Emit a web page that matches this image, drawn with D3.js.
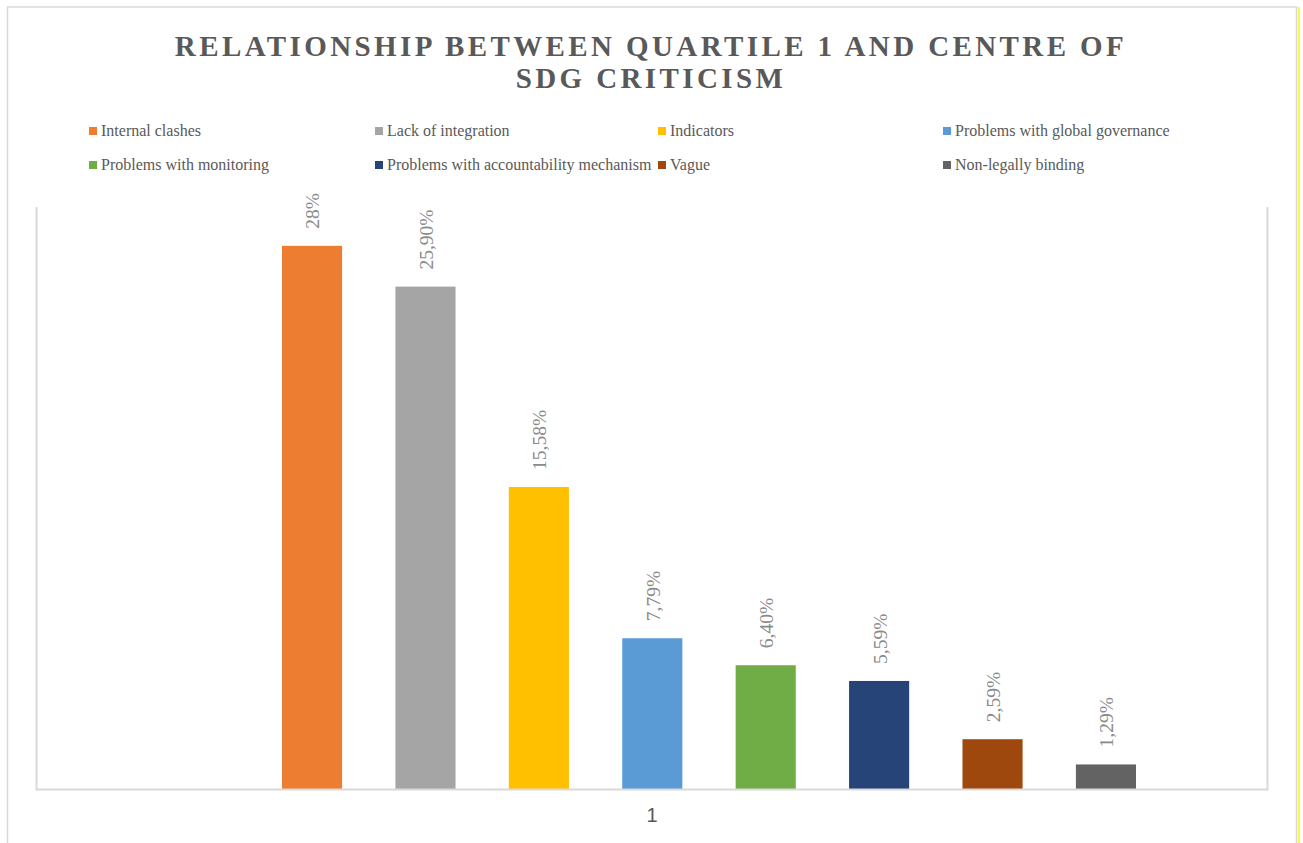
<!DOCTYPE html>
<html>
<head>
<meta charset="utf-8">
<script src="https://cdn.jsdelivr.net/npm/d3@7/dist/d3.min.js"></script>
<style>
  html, body { margin: 0; padding: 0; background: #fff; }
  svg { display: block; }
</style>
</head>
<body>
<script>
// Share of SDG criticism by centre, quartile 1
const categories = ["1"];
const seriesNames = [
  "Internal clashes",
  "Lack of integration",
  "Indicators",
  "Problems with global governance",
  "Problems with monitoring",
  "Problems with accountability mechanism",
  "Vague",
  "Non-legally binding"
];
const seriesValues = [28, 25.90, 15.58, 7.79, 6.40, 5.59, 2.59, 1.29];
const valueLabels = ["28%", "25,90%", "15,58%", "7,79%", "6,40%", "5,59%", "2,59%", "1,29%"];
const seriesColors = ["#ED7D31", "#A5A5A5", "#FFC000", "#5B9BD5", "#70AD47", "#264478", "#9E480E", "#636363"];
const titleLines = ["RELATIONSHIP BETWEEN QUARTILE 1 AND CENTRE OF", "SDG CRITICISM"];

const W = 1303, H = 843;
const plot = { left: 36.5, right: 1267.5, top: 207, bottom: 789.5 };

const svg = d3.select("body").append("svg")
  .attr("width", W).attr("height", H);

svg.append("rect").attr("width", W).attr("height", H).attr("fill", "#fff");

// Chart area frame
svg.append("rect")
  .attr("x", 7.5).attr("y", 7).attr("width", 1289).attr("height", 860)
  .attr("fill", "none").attr("stroke", "#d9d9d9").attr("stroke-width", 1.5);
svg.append("line")
  .attr("x1", 1298.8).attr("x2", 1298.8).attr("y1", 7).attr("y2", H)
  .attr("stroke", "#f7f54a").attr("stroke-width", 2);

// Title
svg.append("g").selectAll("text").data(titleLines).join("text")
  .attr("x", 651).attr("y", (d, i) => 56 + i * 32)
  .attr("text-anchor", "middle")
  .attr("font-family", "'Liberation Serif', 'Times New Roman', serif")
  .attr("font-weight", "bold")
  .attr("font-size", 29)
  .attr("letter-spacing", 3.4)
  .attr("fill", "#595959")
  .text(d => d);

// Legend: 4 columns, 2 rows
const legendCols = [89, 375, 658, 943];
const legend = svg.append("g").selectAll("g").data(seriesNames).join("g")
  .attr("transform", (d, i) => `translate(${legendCols[i % 4]},${131 + Math.floor(i / 4) * 34})`);
legend.append("rect")
  .attr("x", 0).attr("y", -4).attr("width", 8).attr("height", 8)
  .attr("fill", (d, i) => seriesColors[i]);
legend.append("text")
  .attr("x", 12).attr("y", 5)
  .attr("font-family", "'Liberation Serif', 'Times New Roman', serif")
  .attr("font-size", 16)
  .attr("fill", "#595959")
  .text(d => d);

// Scales
const y = d3.scaleLinear().domain([0, 30]).range([plot.bottom, plot.top]);
const x0 = d3.scaleBand().domain(categories).range([plot.left, plot.right]).padding(0);
const x1 = d3.scaleBand().domain(seriesNames)
  .range([245.5, x0.bandwidth() - 131.5])
  .paddingInner(0.47).paddingOuter(0);

// Plot area side borders
svg.append("line")
  .attr("x1", plot.left).attr("x2", plot.left).attr("y1", plot.top).attr("y2", plot.bottom)
  .attr("stroke", "#d9d9d9").attr("stroke-width", 2);
svg.append("line")
  .attr("x1", plot.right).attr("x2", plot.right).attr("y1", plot.top).attr("y2", plot.bottom)
  .attr("stroke", "#d9d9d9").attr("stroke-width", 2);

// Bars
const group = svg.append("g").selectAll("g").data(categories).join("g")
  .attr("transform", d => `translate(${x0(d)},0)`);

group.selectAll("rect").data(seriesNames.map((s, i) => ({ s, v: seriesValues[i], i })))
  .join("rect")
  .attr("x", d => x1(d.s))
  .attr("y", d => y(d.v))
  .attr("width", x1.bandwidth())
  .attr("height", d => y(0) - y(d.v))
  .attr("fill", d => seriesColors[d.i]);

// Rotated value labels above each bar
group.selectAll("text").data(seriesNames.map((s, i) => ({ s, v: seriesValues[i], i })))
  .join("text")
  .attr("transform", d => `translate(${x1(d.s) + x1.bandwidth() / 2 + 1},${y(d.v) - 17}) rotate(-90)`)
  .attr("dy", "0.33em")
  .attr("text-anchor", "start")
  .attr("font-family", "'Liberation Serif', 'Times New Roman', serif")
  .attr("font-size", 19.5)
  .attr("fill", "#8a8a8a")
  .text(d => valueLabels[d.i]);

// Category axis
const xAxis = svg.append("g")
  .attr("transform", `translate(0,${plot.bottom})`)
  .call(d3.axisBottom(x0).tickSize(0).tickPadding(18.5));
xAxis.select(".domain").attr("stroke", "#d9d9d9").attr("stroke-width", 2)
  .attr("d", `M${plot.left - 1},0H${plot.right + 1}`);
xAxis.selectAll("text")
  .attr("font-family", "'Liberation Sans', Arial, sans-serif")
  .attr("font-size", 20)
  .attr("fill", "#595959");
</script>
</body>
</html>
